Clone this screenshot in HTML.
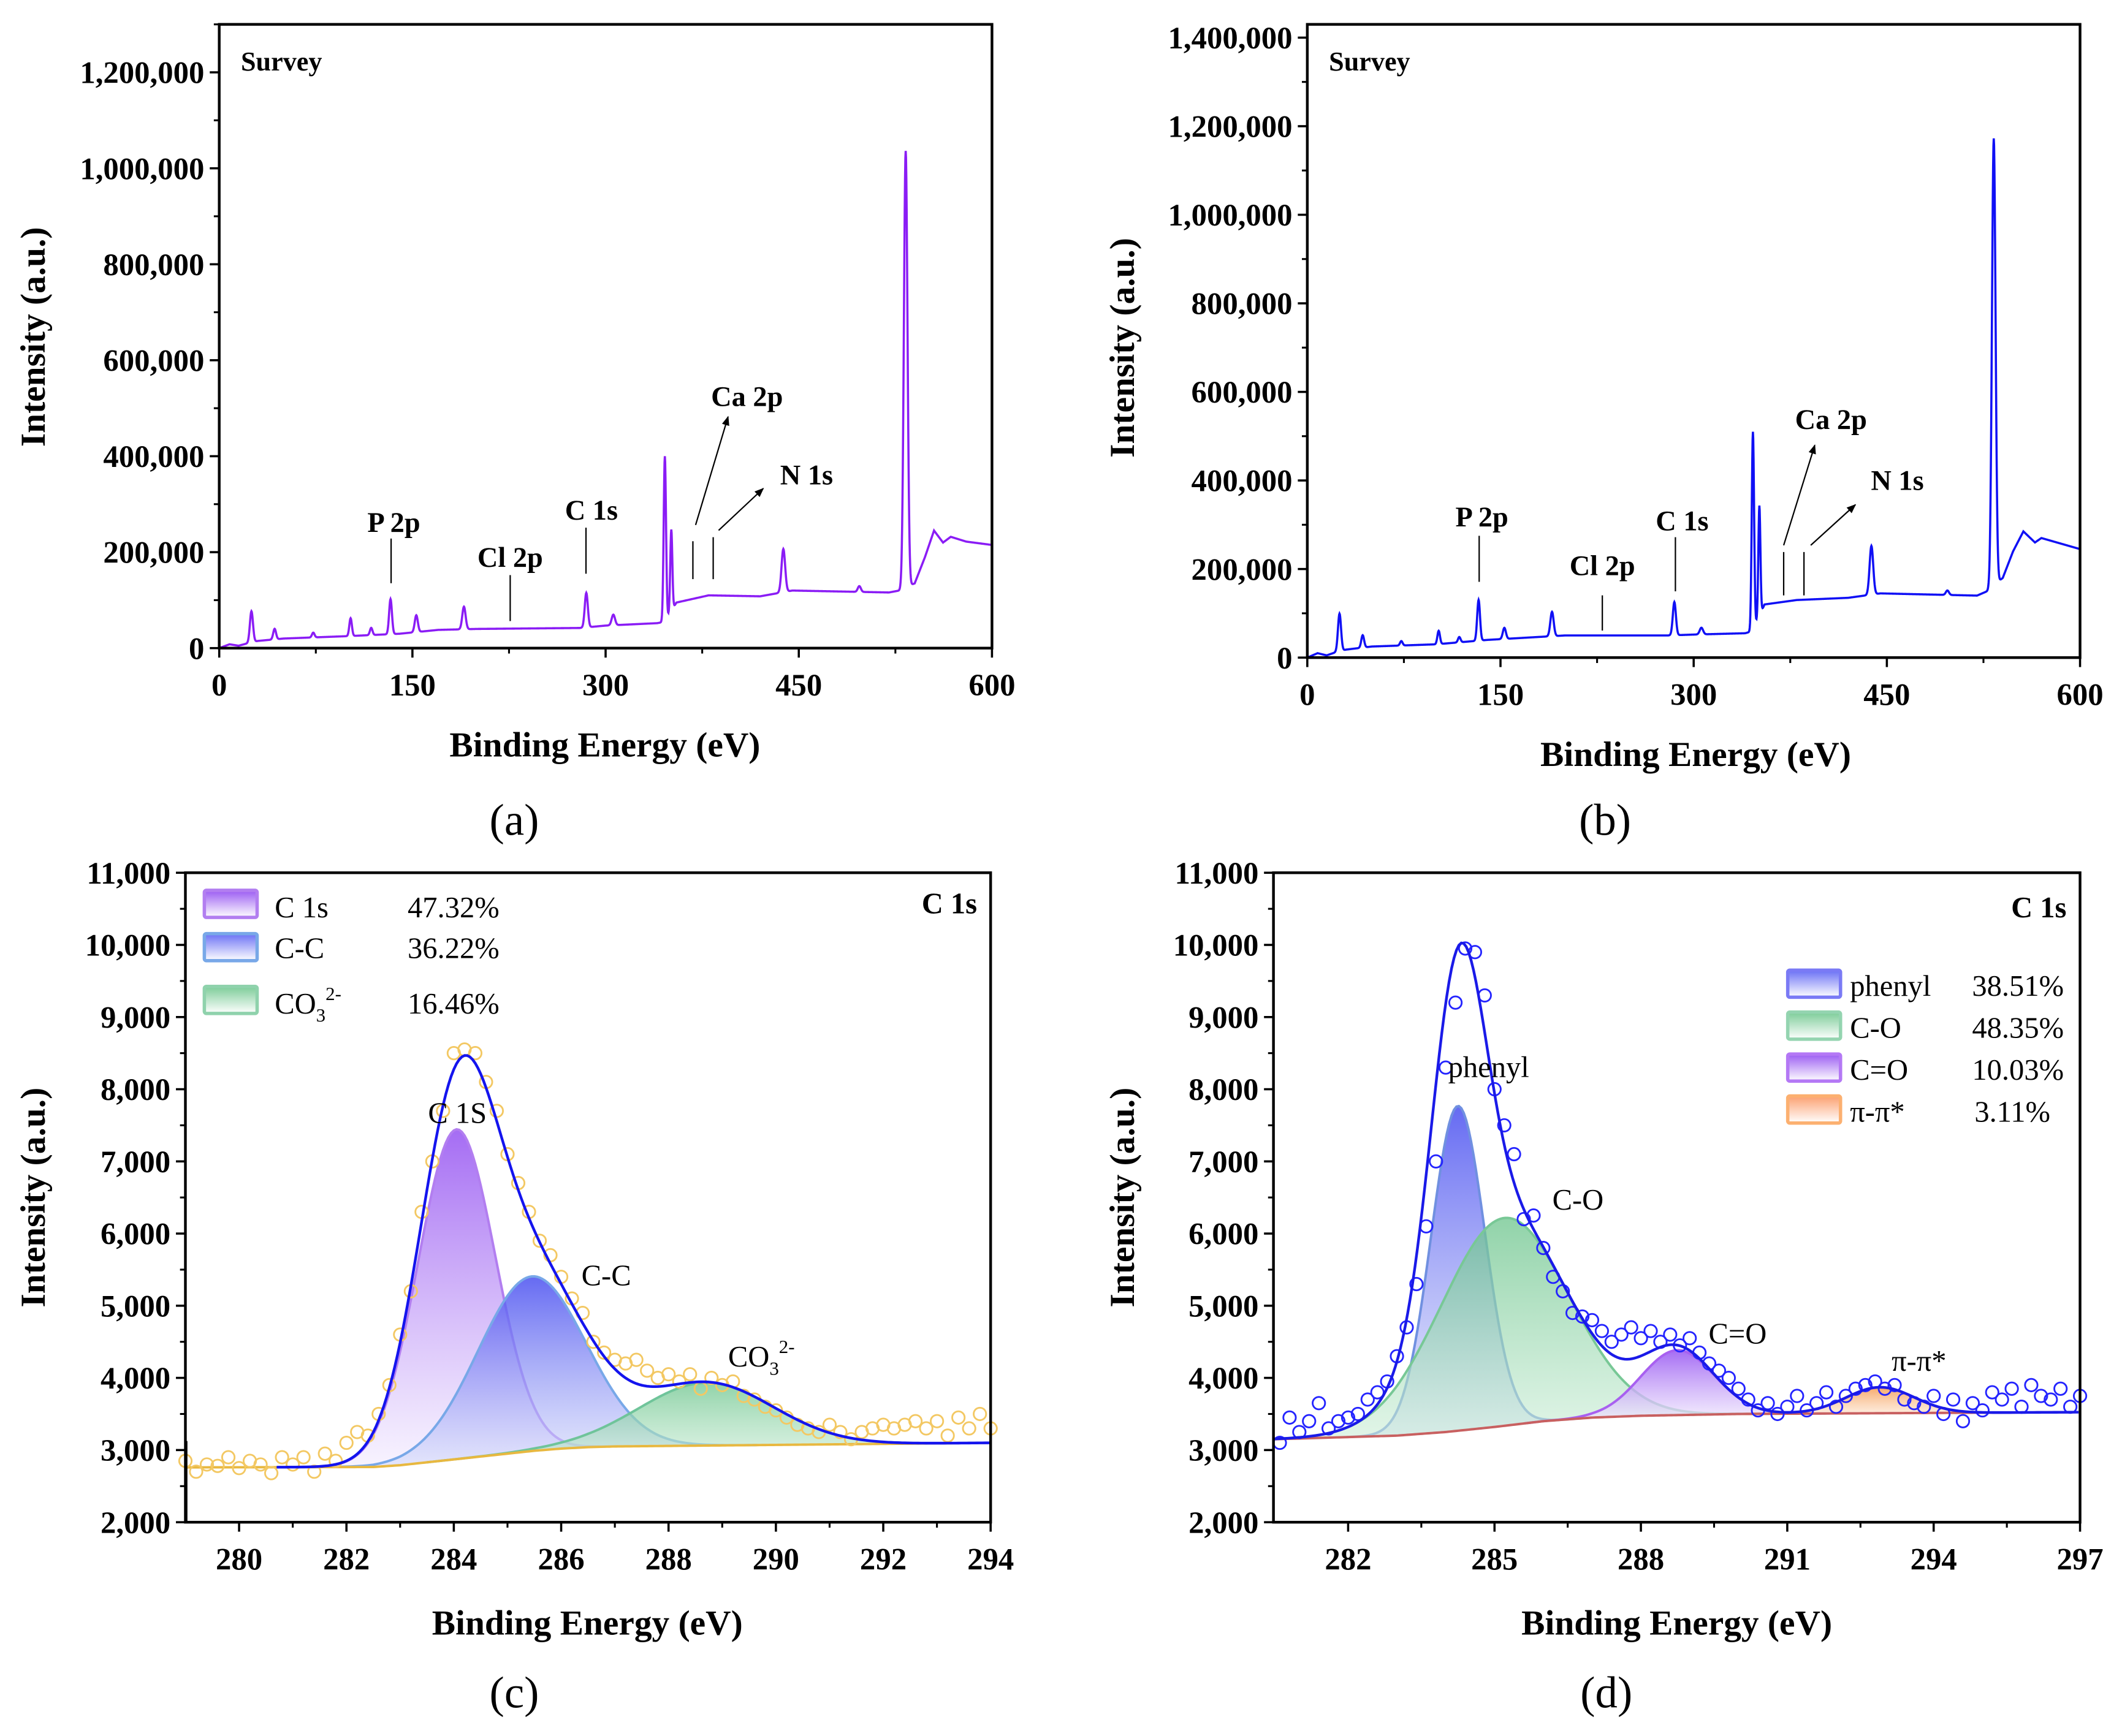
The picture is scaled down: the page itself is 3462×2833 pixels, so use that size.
<!DOCTYPE html>
<html><head><meta charset="utf-8">
<style>
html,body{margin:0;padding:0;background:#fff;}
svg{display:block;}
text{font-family:"Liberation Serif",serif;fill:#000;}
</style></head>
<body>
<svg id="fig" xmlns="http://www.w3.org/2000/svg" width="3462" height="2833" viewBox="0 0 1568 1283" preserveAspectRatio="none">
<defs>
<linearGradient id="gPurple" x1="0" y1="0" x2="0" y2="1"><stop offset="0" stop-color="#9b5cf2" stop-opacity="0.9"/><stop offset="1" stop-color="#f4eefe" stop-opacity="0.7"/></linearGradient>
<linearGradient id="gBlue" x1="0" y1="0" x2="0" y2="1"><stop offset="0" stop-color="#4a50f0" stop-opacity="0.85"/><stop offset="1" stop-color="#d6dcfa" stop-opacity="0.6"/></linearGradient>
<linearGradient id="gGreen" x1="0" y1="0" x2="0" y2="1"><stop offset="0" stop-color="#6cc48c" stop-opacity="0.75"/><stop offset="1" stop-color="#cdeed8" stop-opacity="0.6"/></linearGradient>
<linearGradient id="gOrange" x1="0" y1="0" x2="0" y2="1"><stop offset="0" stop-color="#f59a50" stop-opacity="0.85"/><stop offset="1" stop-color="#fde0c8" stop-opacity="0.6"/></linearGradient>
<linearGradient id="lPurple" x1="0" y1="0" x2="0" y2="1"><stop offset="0" stop-color="#9b5cf2"/><stop offset="1" stop-color="#fff"/></linearGradient>
<linearGradient id="lBlue" x1="0" y1="0" x2="0" y2="1"><stop offset="0" stop-color="#6a70f5"/><stop offset="1" stop-color="#fff"/></linearGradient>
<linearGradient id="lGreen" x1="0" y1="0" x2="0" y2="1"><stop offset="0" stop-color="#7ccc98"/><stop offset="1" stop-color="#fff"/></linearGradient>
<linearGradient id="lOrange" x1="0" y1="0" x2="0" y2="1"><stop offset="0" stop-color="#fca070"/><stop offset="1" stop-color="#fff"/></linearGradient>
<marker id="arr" viewBox="0 0 10 10" refX="9" refY="5" markerWidth="7" markerHeight="7" orient="auto"><path d="M0,1 L10,5 L0,9 z" fill="#000"/></marker>
</defs>
</svg>
<script>
// ---------- DATA ----------
const surveyA_bgE = [0,8,15,22,30,50,100,140,170,200,280,300,340,346,355,380,420,445,520,528,540,548,555,562,568,580,600];
const surveyA_bgI = [0,8000,5000,10000,15000,20000,25000,30000,38000,40000,42000,47000,52000,55000,95000,110000,108000,120000,116000,120000,135000,190000,245000,220000,232000,222000,215000];
const surveyA_peakE = [25,43,73,102,118,133,153,190,285,306,346,351,438,497,533];
const surveyA_peakI = [65000,22000,10000,37000,15000,73000,35000,47000,72000,22000,345000,170000,90000,12000,910000];
const surveyB_bgE = [0,8,15,22,30,50,100,140,170,200,280,300,340,346,355,380,420,445,520,528,540,548,556,565,570,600];
const surveyB_bgI = [0,10000,5000,12000,18000,25000,30000,40000,45000,50000,50000,52000,55000,60000,120000,130000,135000,145000,140000,150000,180000,240000,285000,260000,270000,245000];
const surveyB_peakE = [25,43,73,102,118,133,153,190,285,306,346,351,438,497,533];
const surveyB_peakI = [85000,28000,10000,30000,12000,92000,25000,55000,75000,15000,450000,250000,110000,10000,1010000];
const surveyPeakW = [1.2,1.1,1.0,1.0,1.0,1.1,1.2,1.3,1.2,1.3,0.9,0.8,1.4,1.2,1.4];
const c_dataStart = 279.0, c_dataStep = 0.2;
const c_data = [2850,2700,2800,2780,2900,2750,2850,2800,2680,2900,2800,
2900,2700,2950,2850,3100,3250,3200,3500,3900,4600,5200,6300,7000,7700,8500,8550,8500,8100,7700,7100,6700,6300,5900,5700,5400,5100,4900,4500,4350,4250,4200,4250,4100,4000,4050,3950,4050,3850,4000,3900,3950,3750,3700,3600,3550,3450,3350,3300,3250,3350,3250,3150,3250,3300,3350,3300,3350,3400,3300,3400,3200,3450,3300,3500,3300];
const c_bgE = [279,282.5,283,283.5,284,284.5,285,285.5,286,286.5,287,294];
const c_bgI = [2760,2765,2790,2830,2870,2910,2950,2990,3020,3040,3050,3100];
const c_compNames = ["C 1s","C-C","CO3"];
const c_compCenter = [284.05,285.45,288.7];
const c_compAmp = [4570,2420,870];
const c_compSigma = [0.72,1.0,1.25];
const d_dataStart = 280.6, d_dataStep = 0.2;
const d_data = [3100,3450,3250,3400,3650,3300,3400,3450,3500,3700,3800,3950,4300,4700,5300,6100,7000,8300,9200,9950,9900,9300,8000,7500,7100,6200,6250,5800,5400,5200,4900,4850,4800,4650,
4500,4600,4700,4550,4650,4500,4600,4450,4550,4350,4200,4100,4000,3850,3700,3550,3650,3500,3600,3750,3550,3650,3800,3600,3750,3850,3900,3950,3850,3900,3700,3650,3600,3750,3500,3700,3400,3650,3550,3800,3700,3850,3600,3900,3750,3700,3850,3600,3750];
const d_bgE = [280.5,283,284,285,286,287,288,290,297];
const d_bgI = [3150,3200,3250,3320,3400,3450,3475,3500,3525];
const d_compNames = ["phenyl","C-O","C=O","pi-pi"];
const d_compCenter = [284.25,285.2,288.75,292.9];
const d_compAmp = [4500,2880,900,360];
const d_compSigma = [0.55,1.3,0.75,0.7];

// ---------- HELPERS ----------
const NS = "http://www.w3.org/2000/svg";
const svg = document.getElementById('fig');
function mk(tag, attrs, parent) {
  const el = document.createElementNS(NS, tag);
  for (const k in attrs) el.setAttribute(k, attrs[k]);
  (parent || svg).appendChild(el);
  return el;
}
function txt(x, y, s, size, weight, anchor, name, parent) {
  const el = mk('text', {x: x, y: y, 'font-size': size, 'font-weight': weight || 'normal', 'text-anchor': anchor || 'start'}, parent);
  el.textContent = s;
  
  
  return el;
}
function interp(xs, ys, x) {
  if (x <= xs[0]) return ys[0];
  for (let i = 1; i < xs.length; i++) {
    if (x <= xs[i]) { const t = (x - xs[i-1]) / (xs[i] - xs[i-1]); return ys[i-1] + t * (ys[i] - ys[i-1]); }
  }
  return ys[ys.length - 1];
}
function gauss(x, c, a, s) { return a * Math.exp(-(x - c) * (x - c) / (2 * s * s)); }
function fmt(v) { return v.toLocaleString('en-US'); }

function makeAxes(p) {
  const g = mk('g', {});
  
  
  p.sx = v => p.L + (v - p.x0) / (p.x1 - p.x0) * (p.R - p.L);
  p.sy = v => p.B - (v - p.y0) / (p.y1 - p.y0) * (p.B - p.T);
  p.g = g;
  return p;
}
function drawFrame(p) {
  const g = p.g;
  const fr = mk('rect', {x: p.L, y: p.T, width: p.R - p.L, height: p.B - p.T, fill: 'none', stroke: '#000', 'stroke-width': 2}, g);
  
  
  p.xt.forEach(v => {
    const x = p.sx(v);
    const t = mk('line', {x1: x, y1: p.B, x2: x, y2: p.B + 7, stroke: '#000', 'stroke-width': 1.6}, g);
    
    
    txt(x, p.B + 35, String(v), 23, 'bold', 'middle', 'x-tick-label', g);
  });
  p.xm.forEach(v => {
    const x = p.sx(v);
    const t = mk('line', {x1: x, y1: p.B, x2: x, y2: p.B + 4, stroke: '#000', 'stroke-width': 1.4}, g);
    
    
  });
  p.yt.forEach(v => {
    const y = p.sy(v);
    const t = mk('line', {x1: p.L - 7, y1: y, x2: p.L, y2: y, stroke: '#000', 'stroke-width': 1.6}, g);
    
    
    txt(p.L - 11, y + 8, fmt(v), 23, 'bold', 'end', 'y-tick-label', g);
  });
  p.ym.forEach(v => {
    const y = p.sy(v);
    const t = mk('line', {x1: p.L - 4, y1: y, x2: p.L, y2: y, stroke: '#000', 'stroke-width': 1.4}, g);
    
    
  });
  const yt = txt(0, 0, 'Intensity (a.u.)', 26, 'bold', 'middle', 'y-axis-title', g);
  yt.setAttribute('transform', 'translate(' + p.ytx + ',' + p.yty + ') rotate(-90)');
  txt(p.xtx, p.xty, 'Binding Energy (eV)', 26, 'bold', 'middle', 'x-axis-title', g);
  txt(p.xtx - 67 + p.capdx, p.capy, '(' + p.cap + ')', 33, 'normal', 'middle', 'panel-caption', g);
}
function range(a, b, s) { const r = []; for (let v = a; v <= b + 1e-9; v += s) r.push(+v.toFixed(4)); return r; }

// ---------- SURVEY PANELS ----------
function surveyPanel(p, bgE, bgI, pkE, pkI, color) {
  makeAxes(p);
  let d = '';
  for (let x = p.x0; x <= p.x1; x += 0.25) {
    let y = interp(bgE, bgI, x);
    for (let i = 0; i < pkE.length; i++) y += gauss(x, pkE[i], pkI[i], surveyPeakW[i]);
    d += (d ? 'L' : 'M') + p.sx(x).toFixed(2) + ',' + p.sy(y).toFixed(2);
  }
  const line = mk('path', {d: d, fill: 'none', stroke: color, 'stroke-width': 1.6}, p.g);
  
  
  drawFrame(p);
  txt(p.L + 16, p.T + 34, 'Survey', 20, 'bold', 'start', 'survey-label', p.g);
}
const pa = {name: 'panel-a', L: 162, R: 733, T: 18, B: 479, x0: 0, x1: 600, y0: 0, y1: 1300000,
  xt: [0,150,300,450,600], xm: [75,225,375,525], yt: range(0,1200000,200000), ym: range(100000,1300000,200000),
  ytx: 33, yty: 249, xtx: 447, xty: 559, cap: 'a', capdx: 0, capy: 617};
surveyPanel(pa, surveyA_bgE, surveyA_bgI, surveyA_peakE, surveyA_peakI, '#8a1cf5');
const pb = {name: 'panel-b', L: 966, R: 1537, T: 18, B: 486, x0: 0, x1: 600, y0: 0, y1: 1430000,
  xt: [0,150,300,450,600], xm: [75,225,375,525], yt: range(0,1400000,200000), ym: range(100000,1300000,200000),
  ytx: 838, yty: 257, xtx: 1253, xty: 566, cap: 'b', capdx: 0, capy: 617};
surveyPanel(pb, surveyB_bgE, surveyB_bgI, surveyB_peakE, surveyB_peakI, '#1010f5');

function annoLine(x1, y1, x2, y2, arrow, name) {
  const l = mk('line', {x1: x1, y1: y1, x2: x2, y2: y2, stroke: '#000', 'stroke-width': 1}, svg);
  if (arrow) l.setAttribute('marker-end', 'url(#arr)');
  
  
}
txt(291, 393, 'P 2p', 21, 'bold', 'middle', 'p2p-label');
annoLine(289, 398, 289, 431, false, 'p2p-pointer');
txt(377, 419, 'Cl 2p', 21, 'bold', 'middle', 'cl2p-label');
annoLine(377, 425, 377, 459, false, 'cl2p-pointer');
txt(437, 384, 'C 1s', 21, 'bold', 'middle', 'c1s-label');
annoLine(433, 390, 433, 424, false, 'c1s-pointer');
txt(552, 300, 'Ca 2p', 21, 'bold', 'middle', 'ca2p-label');
annoLine(512, 400, 512, 428, false, 'ca2p-tick');
annoLine(527, 397, 527, 428, false, 'n1s-tick');
annoLine(514, 388, 538, 308, true, 'ca2p-arrow');
annoLine(531, 392, 564, 361, true, 'n1s-arrow');
txt(596, 358, 'N 1s', 21, 'bold', 'middle', 'n1s-label');

txt(1095, 389, 'P 2p', 21, 'bold', 'middle', 'p2p-label');
annoLine(1093, 396, 1093, 430, false, 'p2p-pointer');
txt(1184, 425, 'Cl 2p', 21, 'bold', 'middle', 'cl2p-label');
annoLine(1184, 440, 1184, 466, false, 'cl2p-pointer');
txt(1243, 392, 'C 1s', 21, 'bold', 'middle', 'c1s-label');
annoLine(1238, 397, 1238, 437, false, 'c1s-pointer');
txt(1353, 317, 'Ca 2p', 21, 'bold', 'middle', 'ca2p-label');
annoLine(1318, 408, 1318, 440, false, 'ca2p-tick');
annoLine(1333, 408, 1333, 440, false, 'n1s-tick');
annoLine(1318, 403, 1341, 329, true, 'ca2p-arrow');
annoLine(1338, 403, 1371, 373, true, 'n1s-arrow');
txt(1402, 362, 'N 1s', 21, 'bold', 'middle', 'n1s-label');

// ---------- FIT PANELS ----------
function fitPanel(p, dStart, dStep, data, bgE, bgI, cen, amp, sig, fills, strokes, dataColor, envColor, bgColor, compNames, envFrom) {
  makeAxes(p);
  const xs = range(p.x0, p.x1, 0.05);
  for (let i = 0; i < cen.length; i++) {
    let top = '', bot = '';
    const pts = xs.filter(x => Math.abs(x - cen[i]) < sig[i] * 4.2);
    pts.forEach((x, k) => { top += (k ? 'L' : 'M') + p.sx(x).toFixed(2) + ',' + p.sy(interp(bgE, bgI, x) + gauss(x, cen[i], amp[i], sig[i])).toFixed(2); });
    for (let k = pts.length - 1; k >= 0; k--) bot += 'L' + p.sx(pts[k]).toFixed(2) + ',' + p.sy(interp(bgE, bgI, pts[k])).toFixed(2);
    const f = mk('path', {d: top + bot + 'Z', fill: fills[i], stroke: 'none'}, p.g);
    
    
    const s = mk('path', {d: top, fill: 'none', stroke: strokes[i], 'stroke-width': 1.8}, p.g);
    
    
  }
  let bd = '';
  xs.forEach((x, k) => { bd += (k ? 'L' : 'M') + p.sx(x).toFixed(2) + ',' + p.sy(interp(bgE, bgI, x)).toFixed(2); });
  const bl = mk('path', {d: bd, fill: 'none', stroke: bgColor, 'stroke-width': 1.8}, p.g);
  
  
  data.forEach((v, i) => {
    const x = dStart + i * dStep;
    const c = mk('circle', {cx: p.sx(x), cy: p.sy(v), r: 4.6, fill: 'none', stroke: dataColor, 'stroke-width': 1.3}, p.g);
    
    
  });
  let ed = '', first = true;
  xs.forEach(x => {
    if (x < envFrom) return;
    let y = interp(bgE, bgI, x);
    for (let i = 0; i < cen.length; i++) y += gauss(x, cen[i], amp[i], sig[i]);
    ed += (first ? 'M' : 'L') + p.sx(x).toFixed(2) + ',' + p.sy(y).toFixed(2);
    first = false;
  });
  const env = mk('path', {d: ed, fill: 'none', stroke: envColor, 'stroke-width': 2}, p.g);
  
  
  drawFrame(p);
}
const pc = {name: 'panel-c', L: 137, R: 732, T: 645, B: 1125, x0: 279, x1: 294, y0: 2000, y1: 11000,
  xt: [280,282,284,286,288,290,292,294], xm: [281,283,285,287,289,291,293], yt: range(2000,11000,1000), ym: range(2500,10500,1000),
  ytx: 33, yty: 885, xtx: 434, xty: 1208, cap: 'c', capdx: 13, capy: 1262};
fitPanel(pc, c_dataStart, c_dataStep, c_data, c_bgE, c_bgI, c_compCenter, c_compAmp, c_compSigma,
  ['url(#gPurple)','url(#gBlue)','url(#gGreen)'], ['#b27ef0','#78a8e8','#6fc49a'], '#f3c863', '#1414ee', '#e8b840', c_compNames, 280.7);
annoLine(138, 1065, 138, 1125, false, 'edge-artifact');
txt(338, 830, 'C 1S', 22, 'normal', 'middle', 'c1s-peak-label');
txt(448, 950, 'C-C', 22, 'normal', 'middle', 'cc-peak-label');
(function(){ const t = txt(538, 1010, 'CO', 22, 'normal', 'start', 'co3-peak-label');
  const s1 = mk('tspan', {'font-size': 14, dy: 6}, t); s1.textContent = '3';
  const s2 = mk('tspan', {'font-size': 14, dy: -16}, t); s2.textContent = '2-'; })();
txt(722, 675, 'C 1s', 22, 'bold', 'end', 'c1s-title');
function legendBox(x, y, fill, stroke, name) {
  const r = mk('rect', {x: x, y: y, width: 39, height: 20, fill: fill, stroke: stroke, 'stroke-width': 2.5, rx: 1.5});
  
  
}
legendBox(151, 658, 'url(#lPurple)', '#b27ef0', 'legend-swatch-c1s');
txt(203, 678, 'C 1s', 22, 'normal', 'start', 'legend-label-c1s');
txt(369, 678, '47.32%', 22, 'normal', 'end', 'legend-value-c1s');
legendBox(151, 690, 'url(#lBlue)', '#78a8e8', 'legend-swatch-cc');
txt(203, 708, 'C-C', 22, 'normal', 'start', 'legend-label-cc');
txt(369, 708, '36.22%', 22, 'normal', 'end', 'legend-value-cc');
legendBox(151, 729, 'url(#lGreen)', '#8fd2ac', 'legend-swatch-co3');
(function(){ const t = txt(203, 749, 'CO', 22, 'normal', 'start', 'legend-label-co3');
  const s1 = mk('tspan', {'font-size': 14, dy: 6}, t); s1.textContent = '3';
  const s2 = mk('tspan', {'font-size': 14, dy: -16}, t); s2.textContent = '2-'; })();
txt(369, 749, '16.46%', 22, 'normal', 'end', 'legend-value-co3');

const pd = {name: 'panel-d', L: 941, R: 1537, T: 645, B: 1125, x0: 280.47, x1: 297, y0: 2000, y1: 11000,
  xt: [282,285,288,291,294,297], xm: [283.5,286.5,289.5,292.5,295.5], yt: range(2000,11000,1000), ym: range(2500,10500,1000),
  ytx: 838, yty: 885, xtx: 1239, xty: 1208, cap: 'd', capdx: 15, capy: 1262};
fitPanel(pd, d_dataStart, d_dataStep, d_data, d_bgE, d_bgI, d_compCenter, d_compAmp, d_compSigma,
  ['url(#gBlue)','url(#gGreen)','url(#gPurple)','url(#gOrange)'], ['#7090e0','#78c896','#a860f0','#f5a060'], '#2424ff', '#1a1ae8', '#c86060', d_compNames, 280.47);
txt(1100, 796, 'phenyl', 22, 'normal', 'middle', 'phenyl-peak-label');
txt(1166, 894, 'C-O', 22, 'normal', 'middle', 'co-peak-label');
txt(1284, 993, 'C=O', 22, 'normal', 'middle', 'ceo-peak-label');
txt(1418, 1013, 'π-π*', 22, 'normal', 'middle', 'pi-peak-label');
txt(1527, 678, 'C 1s', 22, 'bold', 'end', 'c1s-title');
legendBox(1321, 717, 'url(#lBlue)', '#7a7af5', 'legend-swatch-phenyl');
txt(1367, 736, 'phenyl', 22, 'normal', 'start', 'legend-label-phenyl');
txt(1525, 736, '38.51%', 22, 'normal', 'end', 'legend-value-phenyl');
legendBox(1321, 748, 'url(#lGreen)', '#94d4b0', 'legend-swatch-co');
txt(1367, 767, 'C-O', 22, 'normal', 'start', 'legend-label-co');
txt(1525, 767, '48.35%', 22, 'normal', 'end', 'legend-value-co');
legendBox(1321, 779, 'url(#lPurple)', '#b478f5', 'legend-swatch-ceo');
txt(1367, 798, 'C=O', 22, 'normal', 'start', 'legend-label-ceo');
txt(1525, 798, '10.03%', 22, 'normal', 'end', 'legend-value-ceo');
legendBox(1321, 810, 'url(#lOrange)', '#fcb070', 'legend-swatch-pi');
txt(1367, 829, 'π-π*', 22, 'normal', 'start', 'legend-label-pi');
txt(1515, 829, '3.11%', 22, 'normal', 'end', 'legend-value-pi');
</script>
</body></html>
